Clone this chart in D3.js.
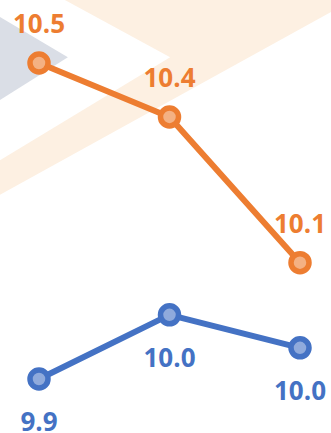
<!DOCTYPE html>
<html>
<head>
<meta charset="utf-8">
<script src="https://cdn.jsdelivr.net/npm/d3@7"></script>
<style>
html,body{margin:0;padding:0;background:#fff;}
svg{display:block;}
</style>
</head>
<body>
<svg id="chart" width="331" height="433"></svg>
<script>
// Data
const categories = ["P1", "P2", "P3"];
const seriesOrange = [10.46, 10.37, 10.127];
const seriesBlue = [9.933, 10.04, 9.985];
const orangeLabels = ["10.5", "10.4", "10.1"];
const blueLabels = ["9.9", "10.0", "10.0"];

const W = 331, H = 433;
const svg = d3.select("#chart");

// decorative background shapes (fractions of the canvas)
const peachShape = [[0.196,0],[1,0],[1,0.028],[0,0.45],[0,0.37],[0.514,0.132]];
const greyShape = [[0,0.039],[0.205,0.132],[0,0.231]];
const toPts = s => s.map(p => [p[0]*W, p[1]*H].join(",")).join(" ");
svg.append("polygon").attr("points", toPts(peachShape)).attr("fill", "#FDF0E2");
svg.append("polygon").attr("points", toPts(greyShape)).attr("fill", "#DADEE6");

const x = d3.scalePoint().domain(categories).range([39, 300]);
const y = d3.scaleLinear().domain([9.843, 10.565]).range([433, 0]);

const series = [
  {values: seriesOrange, labels: orangeLabels, stroke: "#ED7D31", fill: "#F4B183", dy: -30},
  {values: seriesBlue, labels: blueLabels, stroke: "#4472C4", fill: "#8FAADC", dy: 52}
];

const line = d3.line().x((d, i) => x(categories[i])).y(d => y(d));

series.forEach(s => {
  const g = svg.append("g");
  g.append("path").datum(s.values).attr("d", line)
    .attr("fill", "none").attr("stroke", s.stroke).attr("stroke-width", 6)
    .attr("stroke-linejoin", "round");
  g.selectAll("circle").data(s.values).join("circle")
    .attr("cx", (d, i) => x(categories[i])).attr("cy", d => y(d))
    .attr("r", 9).attr("fill", s.fill).attr("stroke", s.stroke).attr("stroke-width", 5.5);
  g.selectAll("text").data(s.values).join("text")
    .attr("x", (d, i) => x(categories[i])).attr("y", d => y(d) + s.dy)
    .attr("text-anchor", "middle")
    .attr("font-family", "'Open Sans', Lato, sans-serif")
    .attr("font-weight", "bold").attr("font-size", 26)
    .attr("fill", s.stroke)
    .text((d, i) => s.labels[i]);
});
</script>
</body>
</html>
